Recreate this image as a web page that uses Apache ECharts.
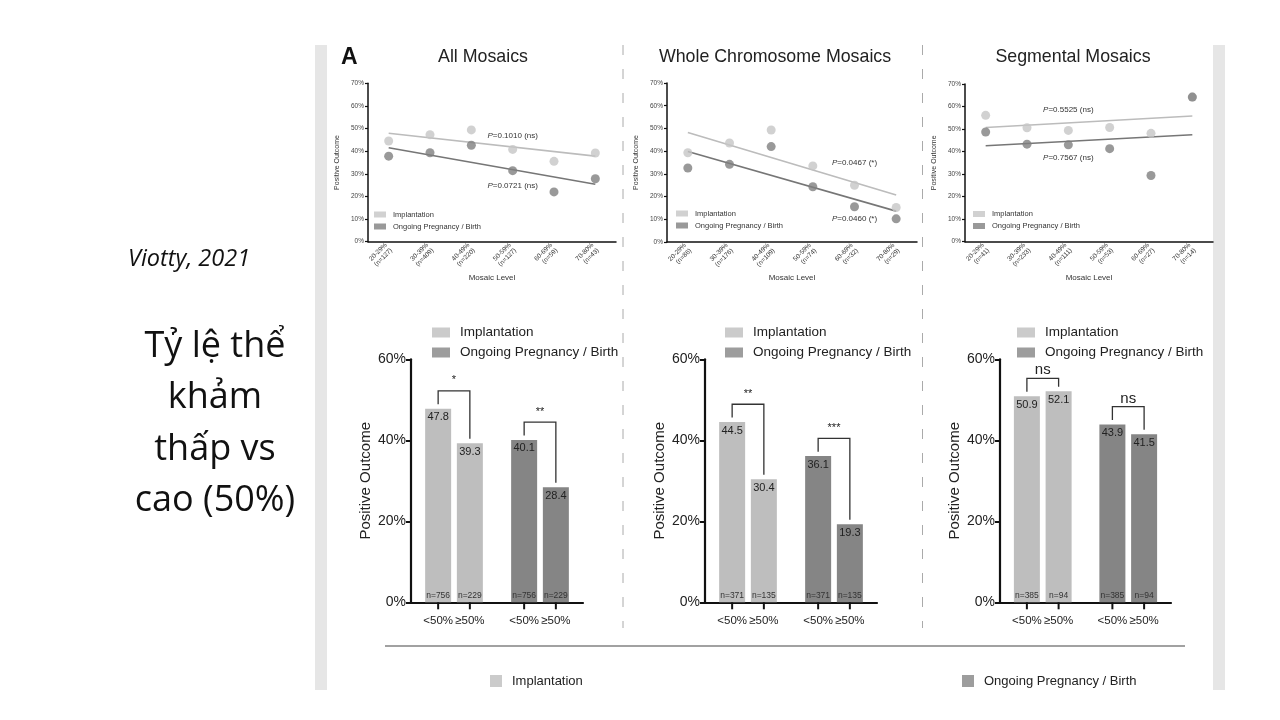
<!DOCTYPE html>
<html>
<head>
<meta charset="utf-8">
<script src="https://cdn.jsdelivr.net/npm/echarts@6.0.0/dist/echarts.min.js"></script>
<style>
  html, body { margin: 0; padding: 0; background: #fff; }
  #chart { width: 1280px; height: 720px; }
</style>
</head>
<body>
<div id="chart"></div>
<script>
// ---- data ----
const mosaicLevels = ['20-29%', '30-39%', '40-49%', '50-59%', '60-69%', '70-80%'];
const panelTitles = ['All Mosaics', 'Whole Chromosome Mosaics', 'Segmental Mosaics'];

const allN = [127, 409, 220, 127, 59, 43];
const allImplant = [44.5, 47.3, 49.4, 40.8, 35.5, 39.2];
const allOngoing = [37.8, 39.3, 42.6, 31.4, 22.0, 27.8];
const allTrendImplant = [47.9, 37.8];
const allTrendOngoing = [41.5, 25.4];
const allP = ['0.1010 (ns)', '0.0721 (ns)'];

const wholeN = [86, 176, 109, 74, 32, 29];
const wholeImplant = [39.3, 43.6, 49.3, 33.5, 25.0, 15.2];
const wholeOngoing = [32.6, 34.2, 42.0, 24.3, 15.5, 10.2];
const wholeTrendImplant = [48.2, 20.7];
const wholeTrendOngoing = [39.8, 13.6];
const wholeP = ['0.0467 (*)', '0.0460 (*)'];

const segN = [41, 233, 111, 53, 27, 14];
const segImplant = [56.1, 50.6, 49.4, 50.7, 48.1, 64.2];
const segOngoing = [48.7, 43.3, 43.0, 41.3, 29.4, 64.2];
const segTrendImplant = [50.7, 55.8];
const segTrendOngoing = [42.6, 47.5];
const segP = ['0.5525 (ns)', '0.7567 (ns)'];

const outcomes = ['Implantation', 'Ongoing Pregnancy / Birth'];
const levelGroups = ['<50%', '≥50%'];

// [<50%, >=50%]
const barAllImplant = [47.8, 39.3];
const barAllOngoing = [40.1, 28.4];
const barAllN = [756, 229];
const barAllSig = ['*', '**'];

const barWholeImplant = [44.5, 30.4];
const barWholeOngoing = [36.1, 19.3];
const barWholeN = [371, 135];
const barWholeSig = ['**', '***'];

const barSegImplant = [50.9, 52.1];
const barSegOngoing = [43.9, 41.5];
const barSegN = [385, 94];
const barSegSig = ['ns', 'ns'];

// ---- styling / layout ----
const FIG = '"Liberation Sans", Arial, sans-serif';
const SLIDE = '"Open Sans", sans-serif';
const SC_LIGHT = '#c6c6c6', SC_DARK = '#7f7f7f';
const LN_LIGHT = '#bcbcbc', LN_DARK = '#767676';
const BAR_LIGHT = '#bebebe', BAR_DARK = '#858585';
const BAR_W = 26, BAR_GAP = 0.22;

const scatterGrids = [
  {left: 368, top: 83.3, width: 248, height: 158.4},
  {left: 667, top: 83, width: 250, height: 159},
  {left: 965, top: 84, width: 248, height: 157.7}
];
const barGrids = [
  {left: 411, top: 359.3, width: 172, height: 243},
  {left: 705, top: 359.3, width: 172, height: 243},
  {left: 1000, top: 359.3, width: 171, height: 243}
];

const scatterPanels = [
  {n: allN, impl: allImplant, ong: allOngoing, tImpl: allTrendImplant, tOng: allTrendOngoing, p: allP,
   pPos: [[2.89, 46.7], [2.89, 24.6]], legend: [374, 210.5]},
  {n: wholeN, impl: wholeImplant, ong: wholeOngoing, tImpl: wholeTrendImplant, tOng: wholeTrendOngoing, p: wholeP,
   pPos: [[4.06, 34.8], [4.06, 10.1]], legend: [676, 209.5]},
  {n: segN, impl: segImplant, ong: segOngoing, tImpl: segTrendImplant, tOng: segTrendOngoing, p: segP,
   pPos: [[2.16, 58.5], [2.16, 37.2]], legend: [973, 210]}
];
const barPanels = [
  {impl: barAllImplant, ong: barAllOngoing, n: barAllN, sig: barAllSig, legend: 432},
  {impl: barWholeImplant, ong: barWholeOngoing, n: barWholeN, sig: barWholeSig, legend: 725},
  {impl: barSegImplant, ong: barSegOngoing, n: barSegN, sig: barSegSig, legend: 1017}
];

const grid = [...scatterGrids, ...barGrids];
const xAxis = [];
const yAxis = [];
const series = [];
const legend = [];

scatterPanels.forEach((p, k) => {
  xAxis.push({
    type: 'category', gridIndex: k, data: mosaicLevels, boundaryGap: true,
    name: 'Mosaic Level', nameLocation: 'middle', nameGap: 32,
    nameTextStyle: {fontSize: 8, color: '#333', fontFamily: FIG},
    axisLine: {lineStyle: {color: '#111', width: 1.5}},
    axisTick: {alignWithLabel: true, length: 3, lineStyle: {color: '#111', width: 1.2}},
    axisLabel: {
      rotate: 45, fontSize: 6.5, lineHeight: 7.5, color: '#333', margin: 5, interval: 0,
      formatter: (v, i) => v + '\n(n=' + p.n[i] + ')'
    }
  });
  yAxis.push({
    type: 'value', gridIndex: k, min: 0, max: 70, interval: 10,
    name: 'Positive Outcome', nameLocation: 'middle', nameGap: 27, nameRotate: 90,
    nameTextStyle: {fontSize: 7, color: '#333', fontFamily: FIG},
    axisLine: {show: true, lineStyle: {color: '#111', width: 1.5}},
    axisTick: {show: true, length: 3, lineStyle: {color: '#111', width: 1.2}},
    axisLabel: {fontSize: 6.5, color: '#444', margin: 4, formatter: '{value}%'},
    splitLine: {show: false}
  });
  const last = mosaicLevels.length - 1;
  series.push(
    {type: 'line', xAxisIndex: k, yAxisIndex: k, data: [[0, p.tImpl[0]], [last, p.tImpl[1]]],
     symbol: 'none', z: 2, silent: true, lineStyle: {color: LN_LIGHT, width: 1.6}},
    {type: 'line', xAxisIndex: k, yAxisIndex: k, data: [[0, p.tOng[0]], [last, p.tOng[1]]],
     symbol: 'none', z: 2, silent: true, lineStyle: {color: LN_DARK, width: 1.6}},
    {type: 'scatter', name: outcomes[0], xAxisIndex: k, yAxisIndex: k, data: p.impl,
     symbolSize: 9, z: 3, itemStyle: {color: SC_LIGHT}},
    {type: 'scatter', name: outcomes[1], xAxisIndex: k, yAxisIndex: k, data: p.ong,
     symbolSize: 9, z: 3, itemStyle: {color: SC_DARK}}
  );
  legend.push({
    left: p.legend[0], top: p.legend[1], orient: 'vertical', icon: 'rect',
    itemWidth: 12, itemHeight: 6, itemGap: 4, selectedMode: false, padding: 0,
    textStyle: {fontSize: 7.5, color: '#333', fontFamily: FIG, padding: [0, 0, 0, 2]},
    data: [{name: outcomes[0], itemStyle: {color: SC_LIGHT}}, {name: outcomes[1], itemStyle: {color: SC_DARK}}]
  });
});

barPanels.forEach((p, k) => {
  const gi = 3 + k;
  xAxis.push({
    type: 'category', gridIndex: gi, data: outcomes,
    axisLine: {lineStyle: {color: '#111', width: 2.2}},
    axisTick: {show: false}, axisLabel: {show: false}
  });
  yAxis.push({
    type: 'value', gridIndex: gi, min: 0, max: 60, interval: 20,
    name: 'Positive Outcome', nameLocation: 'middle', nameGap: 38, nameRotate: 90,
    nameTextStyle: {fontSize: 15, color: '#222', fontFamily: FIG},
    axisLine: {show: true, lineStyle: {color: '#111', width: 2.2}},
    axisTick: {show: true, length: 5, lineStyle: {color: '#111', width: 2}},
    axisLabel: {fontSize: 14, color: '#222', margin: 5, formatter: '{value}%', fontFamily: FIG},
    splitLine: {show: false}
  });
  const color = (d) => d.dataIndex === 0 ? BAR_LIGHT : BAR_DARK;
  [0, 1].forEach(j => {
    series.push({
      type: 'bar', name: levelGroups[j], xAxisIndex: gi, yAxisIndex: gi,
      barWidth: BAR_W, barGap: (BAR_GAP * 100) + '%',
      data: [p.impl[j], p.ong[j]],
      itemStyle: {color: color},
      label: {show: true, position: 'insideTop', distance: 3, fontSize: 11, color: '#222', fontFamily: FIG}
    });
  });
  // significance brackets, x tick marks and labels, n= counts
  series.push({
    type: 'custom', xAxisIndex: gi, yAxisIndex: gi, clip: false, silent: true, z: 5,
    data: [[0, p.impl[0], p.impl[1]], [1, p.ong[0], p.ong[1]]],
    renderItem: (params, api) => {
      const i = api.value(0), lo = api.value(1), hi = api.value(2);
      const base = api.coord([i, 0]);
      const off = (BAR_W + BAR_W * BAR_GAP) / 2;
      const xs = [base[0] - off, base[0] + off];
      const top = api.coord([i, lo + 4.4])[1];
      const yLo = api.coord([i, lo + 1.1])[1];
      const yHi = api.coord([i, hi + 1.1])[1];
      const s = p.sig[params.dataIndex];
      const isNs = s === 'ns';
      const kids = [
        {type: 'polyline', shape: {points: [[xs[0], yLo], [xs[0], top], [xs[1], top], [xs[1], yHi]]},
         style: {stroke: '#333', lineWidth: 1.3, fill: null}},
        {type: 'text', style: {text: s, x: base[0], y: isNs ? top - 8 : top - 5, align: 'center',
         verticalAlign: isNs ? 'middle' : 'bottom', fontSize: isNs ? 15 : 11, fontFamily: FIG, fill: '#222'}}
      ];
      xs.forEach((x, j) => {
        kids.push(
          {type: 'line', shape: {x1: x, y1: base[1], x2: x, y2: base[1] + 7}, style: {stroke: '#111', lineWidth: 2}},
          {type: 'text', style: {text: levelGroups[j], x: x, y: base[1] + 19, align: 'center', verticalAlign: 'middle',
           fontSize: 11.5, fontFamily: FIG, fill: '#222'}},
          {type: 'text', style: {text: 'n=' + p.n[j], x: x, y: base[1] - 7, align: 'center', verticalAlign: 'middle',
           fontSize: 8.5, fontFamily: FIG, fill: '#333'}}
        );
      });
      return {type: 'group', children: kids};
    }
  });
  legend.push({
    left: p.legend, top: 324.5, orient: 'vertical', icon: 'rect',
    itemWidth: 18, itemHeight: 10, itemGap: 4, selectedMode: false, padding: 0,
    textStyle: {fontSize: 13.5, lineHeight: 16, color: '#222', fontFamily: FIG, padding: [0, 0, 0, 5]},
    data: [{name: outcomes[0], itemStyle: {color: BAR_LIGHT}}, {name: outcomes[1], itemStyle: {color: BAR_DARK}}]
  });
});

// bottom legend
[[490, 0, BAR_LIGHT], [962, 1, BAR_DARK]].forEach(([left, idx, c]) => {
  legend.push({
    left: left, top: 673, icon: 'rect', itemWidth: 12, itemHeight: 12, selectedMode: false, padding: 0,
    textStyle: {fontSize: 13, lineHeight: 16, color: '#222', fontFamily: FIG, padding: [0, 0, 0, 5]},
    data: [{name: outcomes[idx], itemStyle: {color: c}}]
  });
});

const graphic = [
  {type: 'rect', shape: {x: 315, y: 45, width: 12, height: 645}, style: {fill: '#e6e6e6'}, z: -10},
  {type: 'rect', shape: {x: 1213, y: 45, width: 12, height: 645}, style: {fill: '#e6e6e6'}, z: -10},
  {type: 'line', shape: {x1: 623, y1: 45, x2: 623, y2: 628}, style: {stroke: '#aaa', lineWidth: 1, lineDash: [10, 14]}},
  {type: 'line', shape: {x1: 922.5, y1: 45, x2: 922.5, y2: 628}, style: {stroke: '#aaa', lineWidth: 1, lineDash: [10, 14]}},
  {type: 'line', shape: {x1: 385, y1: 646, x2: 1185, y2: 646}, style: {stroke: '#444', lineWidth: 1.2}},
  {type: 'text', style: {text: 'A', x: 341, y: 58, verticalAlign: 'middle', fontSize: 23, fontWeight: 'bold', fontFamily: FIG, fill: '#111'}},
  {type: 'text', style: {text: 'Viotty, 2021', x: 128, y: 259, verticalAlign: 'middle', fontSize: 23.5, fontStyle: 'italic', fontFamily: SLIDE, fill: '#111'}},
  {type: 'text', style: {text: 'Tỷ lệ thể\nkhảm\nthấp vs\ncao (50%)', x: 215, y: 321, align: 'center', verticalAlign: 'top',
   fontSize: 36, lineHeight: 51.3, fontFamily: SLIDE, fill: '#111'}}
];
const titleX = [483, 775, 1073];
panelTitles.forEach((t, k) => {
  graphic.push({type: 'text', style: {text: t, x: titleX[k], y: 57, align: 'center', verticalAlign: 'middle',
    fontSize: 17.8, fontFamily: FIG, fill: '#222'}});
});

const chart = echarts.init(document.getElementById('chart'), null, {renderer: 'canvas', width: 1280, height: 720});
chart.setOption({
  animation: false,
  backgroundColor: '#fff',
  textStyle: {fontFamily: FIG},
  grid: grid, xAxis: xAxis, yAxis: yAxis, series: series, legend: legend, graphic: graphic
});

// p-value notes, anchored in data space of each scatter grid
scatterPanels.forEach((p, k) => {
  p.pPos.forEach((pos, j) => {
    const pt = chart.convertToPixel({gridIndex: k}, pos);
    graphic.push({type: 'text', style: {
      text: '{i|P}=' + p.p[j], x: pt[0], y: pt[1], align: 'center', verticalAlign: 'middle',
      fontSize: 8, fontFamily: FIG, fill: '#333',
      rich: {i: {fontStyle: 'italic', fontSize: 8, fontFamily: FIG, fill: '#333'}}
    }});
  });
});
chart.setOption({graphic: graphic});
</script>
</body>
</html>
